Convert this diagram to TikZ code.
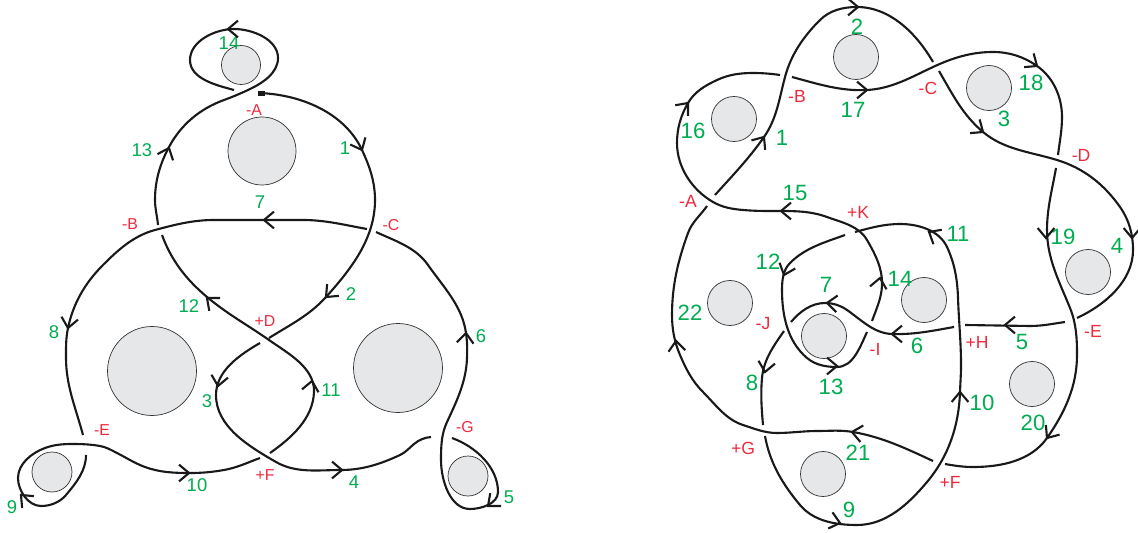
\documentclass[tikz,border=0pt]{standalone}
\usepackage{fontspec}
\setmainfont{Liberation Sans}
\definecolor{arcgreen}{RGB}{0,172,80}
\definecolor{crossred}{RGB}{240,40,60}
\definecolor{holegray}{RGB}{230,231,232}
\tikzset{
  strand/.style={line width=1.2pt,black!90,line cap=butt},
  barb/.style={line width=1.2pt,black!90,line join=miter},
  hole/.style={circle,draw=black!80,line width=.4pt,fill=holegray,inner sep=0pt},
  arclabel/.style={text=arcgreen,inner sep=0pt},
  crosslabel/.style={text=crossred,inner sep=0pt},
  heads/.style 2 args={out=#1,in=#2+180,looseness=.9}
}
\begin{document}
\begin{tikzpicture}[x=.02cm,y=-.02cm]
\useasboundingbox (0,0) rectangle (1138,533);
% left diagram
\foreach \x/\y/\d [count=\i] in {262/151/68,241/65/39,152/371/89,398/368/89,52/472/40,468/476/40}
  \node[hole,minimum size=\d*.02cm] (la\i) at (\x,\y) {};
%
\draw[strand] (259,93) to[heads={-2}{-65}] (362,150) to[heads={-65}{-90}] (375,200) to[heads={-90}{-132}] (326,297) to[heads={-132}{-148}] (269,338);
\draw[strand] (260,343) to[heads={-150}{-90}] (216,395) to[heads={-90}{-30}] (276,462) to[heads={-30}{0}] (341,470) to[heads={0}{25}] (400,455) to[heads={25}{40}] (414,444) to[heads={40}{5}] (431,437);
\draw[strand] (452,438) to[heads={-20}{-90}] (498,492) to[heads={-90}{180}] (470,509) to[heads={180}{90}] (441,460) to[heads={90}{65}] (447,422) to[heads={65}{88}] (467,358) to[heads={88}{98}] (466,333) to[heads={98}{125}] (428,265) to[heads={125}{155}] (376,232);
\draw[strand] (367,229) to[heads={170}{180}] (303,220) -- (214,220) to[heads={180}{195}] (155,230) to[heads={195}{225}] (103,265) to[heads={225}{258}] (68,328) to[heads={258}{270}] (66,358) to[heads={270}{285}] (83,435);
\draw[strand] (86,455) to[heads={-90}{-130}] (66,495) to[heads={-130}{180}] (41,506) to[heads={180}{90}] (18,478) to[heads={90}{20}] (45,448) to[heads={20}{0}] (72,444) to[heads={0}{-10}] (100,446) to[heads={-10}{-27}] (117,453) to[heads={-27}{-20}] (145,467) to[heads={-20}{0}] (190,473) to[heads={0}{10}] (224,470) to[heads={10}{20}] (260,458);
\draw[strand] (270,453) to[heads={35}{88}] (314,392) to[heads={88}{145}] (269,340) to[heads={145}{140}] (207,297) to[heads={140}{110}] (162,235);
\draw[strand] (158,225) to[heads={95}{90}] (155,200) to[heads={90}{62}] (169,147) to[heads={62}{20}] (224,100) to[heads={20}{25}] (248,90) to[heads={25}{90}] (278,58) to[heads={90}{180}] (234,29) to[heads={180}{-90}] (190,60) to[heads={-90}{-15}] (234,90);
\fill[black!90] (258,91) rectangle (265,96);
%
\foreach \x/\y/\t [count=\i] in {229/43/14,142/150/13,345/148/1,260/202/7,351/294/2,189/306/12,54/332/8,207/401/3,331/390/11,481/336/6,197/485/10,354/482/4,12/507/9,509/497/5}
  \node[arclabel,font=\fontsize{10.5}{12}\selectfont] (lg\i) at (\x,\y) {\t};
\foreach \x/\y/\t [count=\i] in {254/110/-A,130/224/-B,391/225/-C,265/321/+D,102/430/-E,265/475/+F,465/427/-G}
  \node[crosslabel,font=\fontsize{9}{11}\selectfont] (lr\i) at (\x,\y) {\t};
% right diagram
\foreach \x/\y [count=\i] in {734/119,856/57,989/88,1088/272,1032/384,924/300,730/303,824/336,823/474}
  \node[hole,minimum size=45*.02cm] (ra\i) at (\x,\y) {};
%
\draw[strand] (715,195) to[heads={48}{55}] (764,137) to[heads={55}{75}] (785,77) to[heads={75}{45}] (820,20) to[heads={45}{0}] (857,7) to[heads={0}{-60}] (933,62);
\draw[strand] (939,71) to[heads={-60}{-40}] (983,132) to[heads={-40}{-17}] (1057,160) to[heads={-17}{-55}] (1120,207) to[heads={-55}{-90}] (1133,250) to[heads={-90}{-155}] (1077,318);
\draw[strand] (1065,322) to[heads={188}{180}] (1030,326) -- (965,325);
\draw[strand] (954,327) to[heads={190}{178}] (892,334) to[heads={178}{145}] (847,310) to[heads={145}{180}] (825,303) to[heads={180}{230}] (791,322);
\draw[strand] (784,331) to[heads={235}{265}] (762,378) to[heads={265}{275}] (763,425);
\draw[strand] (765,436) to[heads={-80}{-50}] (800,505) to[heads={-50}{0}] (857,525) to[heads={0}{50}] (927,482) to[heads={50}{88}] (960,392) to[heads={88}{90}] (961,365) to[heads={90}{92}] (958,298) to[heads={92}{115}] (947,247) to[heads={115}{180}] (900,224) to[heads={180}{195}] (855,232);
\draw[strand] (845,235) to[heads={200}{225}] (790,263) to[heads={225}{270}] (782,290) to[heads={270}{-40}] (807,358) to[heads={-40}{0}] (837,367) to[heads={0}{65}] (867,332);
\draw[strand] (872,321) to[heads={70}{88}] (882,285) to[heads={88}{120}] (867,240) to[heads={120}{160}] (827,217) to[heads={160}{180}] (780,211) to[heads={180}{175}] (743,210) to[heads={175}{150}] (713,202) to[heads={150}{90}] (677,143) to[heads={90}{60}] (688,103) to[heads={60}{25}] (717,80) to[heads={25}{0}] (753,73) to[heads={0}{-8}] (780,75);
\draw[strand] (792,77) to[heads={-15}{3}] (867,90) to[heads={3}{25}] (933,67) to[heads={25}{0}] (993,52) to[heads={0}{-35}] (1037,66) to[heads={-35}{-90}] (1062,117) to[heads={-90}{-97}] (1058,155);
\draw[strand] (1056,168) to[heads={-100}{-90}] (1047,230) to[heads={-90}{-68}] (1070,308) to[heads={-68}{-90}] (1077,355) to[heads={-90}{-125}] (1047,438) to[heads={-125}{180}] (973,467) to[heads={180}{170}] (945,464);
\draw[strand] (933,461) to[heads={155}{170}] (853,432) to[heads={170}{180}] (817,431) to[heads={180}{180}] (777,433) to[heads={180}{162}] (743,425) to[heads={162}{135}] (703,392) to[heads={135}{113}] (680,355) to[heads={113}{90}] (672,315) to[heads={90}{70}] (688,233) to[heads={70}{55}] (707,206);
%
\foreach \x/\y/\t [count=\i] in {857/27/2,693/131/16,782/138/1,853/110/17,1031/83/18,1004/119/3,1063/237/19,1117/246/4,795/193/15,958/234/11,768/262/12,826/285/7,900/279/14,690/313/22,917/346/6,1022/342/5,831/387/13,752/383/8,982/403/10,1033/423/20,858/453/21,849/510/9}
  \node[arclabel,font=\fontsize{12.6}{14}\selectfont] (rg\i) at (\x,\y) {\t};
\foreach \x/\y/\t [count=\i] in {688/201/-A,797/96/-B,928/88/-C,1081/155/-D,1093/331/-E,950/482/+F,743/448/+G,977/342/+H,875/349/-I,763/324/-J,858/212/+K}
  \node[crosslabel,font=\fontsize{10}{12}\selectfont] (rr\i) at (\x,\y) {\t};
% arrow tips
\foreach \x/\y/\a in {228/29/180,169/148/-68,362/150/65,264/220/180,326/297/135,207/298/-140,68/328/100,218/386/100,312/381/-80,466/333/-85,189/473/0,342/470/0,21/495/-135,488/506/140,
  688/103/-50,764/137/-55,858/7/0,867/90/0,1037/66/35,983/132/35,1046/238/90,1132/238/90,781/211/180,929/232/-150,784/275/110,880/278/-80,827/303/185,892/334/180,1005/325/180,765/372/100,837/366/0,676/341/-95,960/392/-90,1047/438/125,852/432/190,840/523/15}
  \draw[barb] (\x,\y) ++(\a+140:13) -- (\x,\y) -- ++(\a-140:13);
\end{tikzpicture}
\end{document}
